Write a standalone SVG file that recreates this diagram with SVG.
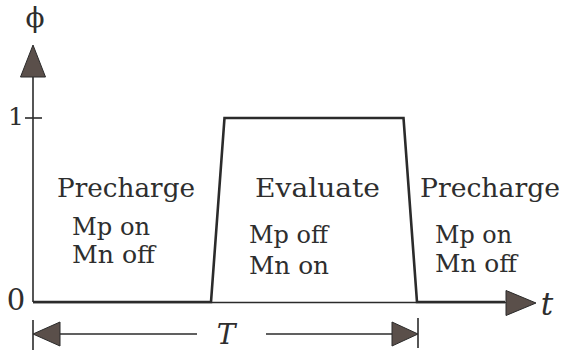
<svg xmlns="http://www.w3.org/2000/svg" width="569" height="352" viewBox="0 0 569 352">
<style>
.ax{stroke:#2b2b2b;stroke-width:1.6;fill:none}
.pulse{stroke:#2b2b2b;stroke-width:2.6;fill:none;stroke-linejoin:miter}
.head{fill:#5a4f4a;stroke:#2b2b2b;stroke-width:1}
.big{font-family:"DejaVu Serif","Liberation Serif",serif;font-size:26.5px;fill:#2e2e2e}
.sm{font-family:"DejaVu Serif","Liberation Serif",serif;font-size:24.5px;fill:#2e2e2e}
.it{font-family:"DejaVu Serif","Liberation Serif",serif;font-style:italic;fill:#2e2e2e}
.num{font-family:"DejaVu Serif","Liberation Serif",serif;fill:#2e2e2e}
</style>
<rect width="569" height="352" fill="#ffffff"/>
<g id="axes">
  <line class="ax" x1="33" y1="76" x2="33" y2="302"/>
  <polygon class="head" points="33,45 20.5,77 45.5,77"/>
  <line class="ax" x1="25" y1="118" x2="42" y2="118"/>
  <line class="ax" x1="33" y1="302.5" x2="507" y2="302.5"/>
  <polygon class="head" points="536,303 506,290.5 506,315.5"/>
  <text class="num" x="35" y="27" font-size="28" text-anchor="middle">ϕ</text>
  <text class="num" x="24" y="125" font-size="25" text-anchor="end">1</text>
  <text class="num" x="16" y="310" font-size="29" text-anchor="middle">0</text>
  <text class="it" x="547" y="315" font-size="31" text-anchor="middle">t</text>
</g>
<g id="pulse">
  <polyline class="pulse" points="33,302 211,302 224.5,118 403.5,118 417,302 505,302"/>
</g>
<g id="period">
  <line class="ax" x1="33" y1="320" x2="33" y2="350"/>
  <line class="ax" x1="418" y1="318" x2="418" y2="348"/>
  <line class="ax" x1="58" y1="334" x2="197" y2="334"/>
  <line class="ax" x1="266" y1="334" x2="394" y2="334"/>
  <polygon class="head" points="33,334 60,322 60,346"/>
  <polygon class="head" points="418,334 392,322 392,346"/>
  <text class="it" x="226" y="344" font-size="28" text-anchor="middle">T</text>
</g>
<g id="precharge1">
  <text class="big" x="57" y="197" textLength="138" lengthAdjust="spacingAndGlyphs">Precharge</text>
  <text class="sm" x="72" y="235" textLength="78" lengthAdjust="spacingAndGlyphs">Mp on</text>
  <text class="sm" x="72" y="263" textLength="83" lengthAdjust="spacingAndGlyphs">Mn off</text>
</g>
<g id="evaluate">
  <text class="big" x="255" y="197" textLength="125" lengthAdjust="spacingAndGlyphs">Evaluate</text>
  <text class="sm" x="249" y="243" textLength="79" lengthAdjust="spacingAndGlyphs">Mp off</text>
  <text class="sm" x="249" y="274" textLength="80" lengthAdjust="spacingAndGlyphs">Mn on</text>
</g>
<g id="precharge2">
  <text class="big" x="420" y="197" textLength="140" lengthAdjust="spacingAndGlyphs">Precharge</text>
  <text class="sm" x="435" y="243" textLength="77" lengthAdjust="spacingAndGlyphs">Mp on</text>
  <text class="sm" x="435" y="272" textLength="82" lengthAdjust="spacingAndGlyphs">Mn off</text>
</g>
</svg>
